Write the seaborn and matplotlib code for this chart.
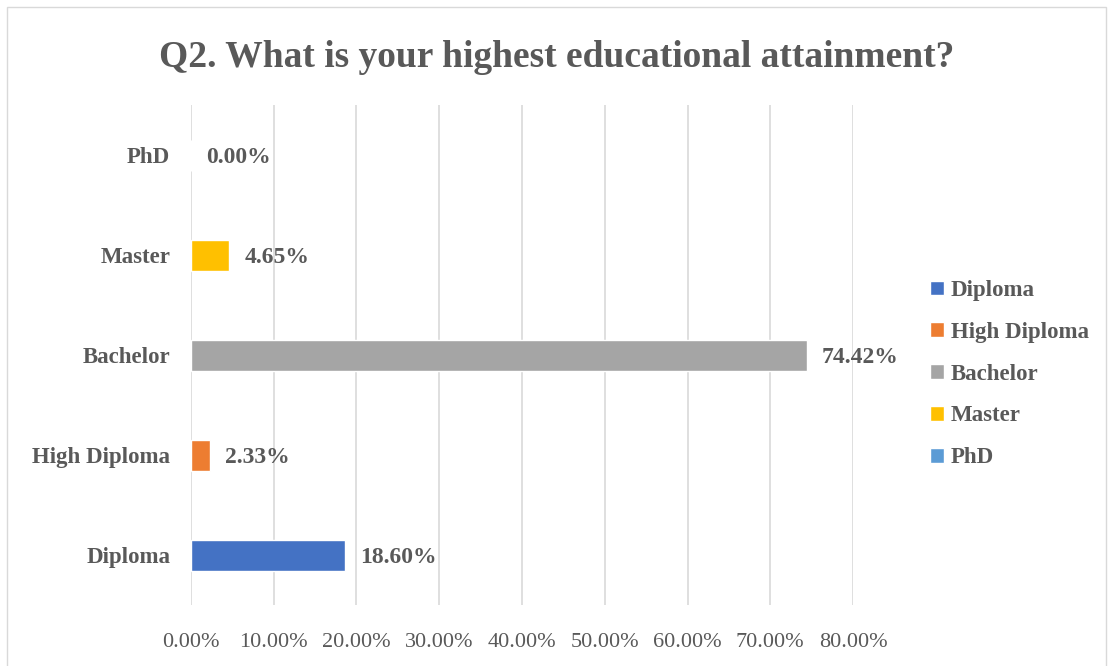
import pandas as pd
import seaborn as sns
import matplotlib.pyplot as plt
from matplotlib.patches import Rectangle

levels = ["Diploma", "High Diploma", "Bachelor", "Master", "PhD"]
shares = [18.60, 2.33, 74.42, 4.65, 0.00]
colors = ["#4472C4", "#ED7D31", "#A5A5A5", "#FFC000", "#5B9BD5"]
ticks = [0, 10, 20, 30, 40, 50, 60, 70, 80]

df = pd.DataFrame({"level": levels, "share": shares})

sns.set_style("white")
plt.rcParams['font.family'] = ['Liberation Serif', 'DejaVu Serif']
grey = "#595959"

fig = plt.figure(figsize=(11.13, 6.66), dpi=100)
ax = fig.add_axes([0.1716, 0.0916, 0.5948, 0.7504])

sns.barplot(data=df, x="share", y="level", hue="level",
            order=levels[::-1], hue_order=levels,
            palette=colors, dodge=False, width=0.31,
            orient="h", ax=ax, legend=True, saturation=1)

ax.set_xlim(0, 80)
ax.set_xticks(ticks)
ax.set_xticklabels([f"{t:.2f}%" for t in ticks], color=grey, fontsize=16)
ax.set_xlabel("")
ax.set_ylabel("")
ax.grid(axis="x", color="#D9D9D9", linewidth=1.2)
ax.set_axisbelow(True)
for s in ax.spines.values():
    s.set_visible(False)
ax.tick_params(axis="x", length=0, pad=20)
ax.tick_params(axis="y", length=0, pad=15)
for lab in ax.get_yticklabels():
    lab.set_fontweight("bold")
    lab.set_fontsize(16.5)
    lab.set_color(grey)

# data labels
for lvl, val in zip(levels, shares):
    ypos = levels[::-1].index(lvl)
    ax.text(val + 1.8, ypos, f"{val:.2f}%", va="center_baseline", ha="left",
            fontsize=17, fontweight="bold", color=grey)

handles, labels = ax.get_legend_handles_labels()
ax.legend(handles, labels, loc="center left", bbox_to_anchor=(1.085, 0.462),
          frameon=False, handlelength=0.6, handleheight=0.6,
          handletextpad=0.3, labelspacing=0.91,
          prop={"weight": "bold", "size": 16.5}, labelcolor=grey)

fig.suptitle("Q2. What is your highest educational attainment?",
             x=0.5, y=0.94, fontsize=27, fontweight="bold", color=grey)

fig.patches.append(Rectangle((0.006, -0.01), 0.988, 1.0, transform=fig.transFigure,
                             fill=False, edgecolor="#D9D9D9", linewidth=1))

plt.savefig("out.png", dpi=100)
